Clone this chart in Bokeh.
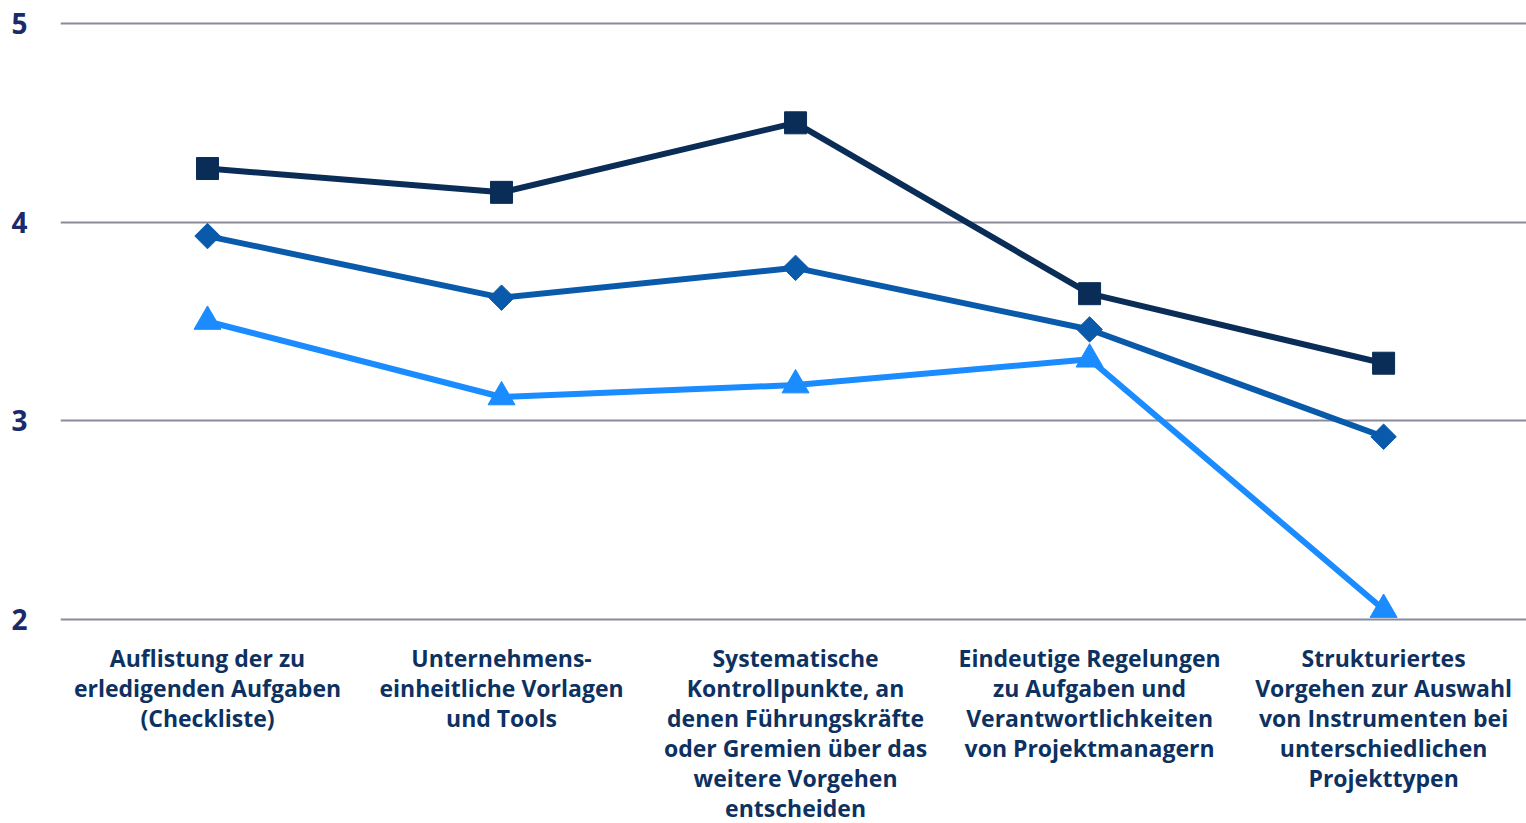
import math
from bokeh.plotting import figure
from bokeh.models import Range1d, FixedTicker
from bokeh.embed import file_html
from bokeh.resources import INLINE

categories = [
    "Auflistung der zu\nerledigenden Aufgaben\n(Checkliste)",
    "Unternehmens-\neinheitliche Vorlagen\nund Tools",
    "Systematische\nKontrollpunkte, an\ndenen Führungskräfte\noder Gremien über das\nweitere Vorgehen\nentscheiden",
    "Eindeutige Regelungen\nzu Aufgaben und\nVerantwortlichkeiten\nvon Projektmanagern",
    "Strukturiertes\nVorgehen zur Auswahl\nvon Instrumenten bei\nunterschiedlichen\nProjekttypen",
]
series_square = [4.27, 4.15, 4.50, 3.64, 3.29]
series_diamond = [3.93, 3.62, 3.77, 3.46, 2.92]
series_triangle = [3.50, 3.12, 3.18, 3.31, 2.05]
y_ticks = [2, 3, 4, 5]

xs = list(range(len(categories)))

p = figure(frame_width=1466, frame_height=600, output_backend="svg", toolbar_location=None,
           x_range=Range1d(-0.5, 4.486), y_range=Range1d(1.99, 5.01),
           min_border_left=60, min_border_top=21, min_border_right=0,
           min_border_bottom=0)
p.outline_line_color = None
p.background_fill_color = "white"
p.border_fill_color = "white"

text_col = "#0d3160"
font = "Open Sans"

# axes
p.xaxis.ticker = FixedTicker(ticks=xs)
p.xaxis.major_label_overrides = {i: c for i, c in enumerate(categories)}
p.xaxis.axis_line_color = None
p.xaxis.major_tick_line_color = None
p.xaxis.minor_tick_line_color = None
p.xaxis.major_label_text_font = font
p.xaxis.major_label_text_font_style = "bold"
p.xaxis.major_label_text_font_size = "23px"
p.xaxis.major_label_text_color = text_col
p.xaxis.major_label_text_line_height = 0.94
p.xaxis.major_label_standoff = 14

p.yaxis.ticker = FixedTicker(ticks=y_ticks)
p.yaxis.axis_line_color = None
p.yaxis.major_tick_line_color = None
p.yaxis.minor_tick_line_color = None
p.yaxis.major_label_text_font = font
p.yaxis.major_label_text_font_style = "bold"
p.yaxis.major_label_text_font_size = "28px"
p.yaxis.major_label_text_color = "#1a2a6c"
p.yaxis.major_label_standoff = 27

p.xgrid.grid_line_color = None
p.ygrid.ticker = FixedTicker(ticks=y_ticks)
p.ygrid.grid_line_color = "#8a8a9a"
p.ygrid.grid_line_width = 2

c_sq = "#0a2d57"
c_di = "#0a5aab"
c_tr = "#1a8cff"

p.line(xs, series_square, line_color=c_sq, line_width=6)
p.line(xs, series_diamond, line_color=c_di, line_width=6)
p.line(xs, series_triangle, line_color=c_tr, line_width=6)

p.scatter(xs, series_square, marker="square", size=22, fill_color=c_sq, line_color=c_sq)
p.scatter(xs, series_diamond, marker="square", size=18, angle=math.pi / 4,
          fill_color=c_di, line_color=c_di)
p.scatter(xs, series_triangle, marker="triangle", size=27, fill_color=c_tr, line_color=c_tr)

open("out.html", "w").write(file_html(p, INLINE))
